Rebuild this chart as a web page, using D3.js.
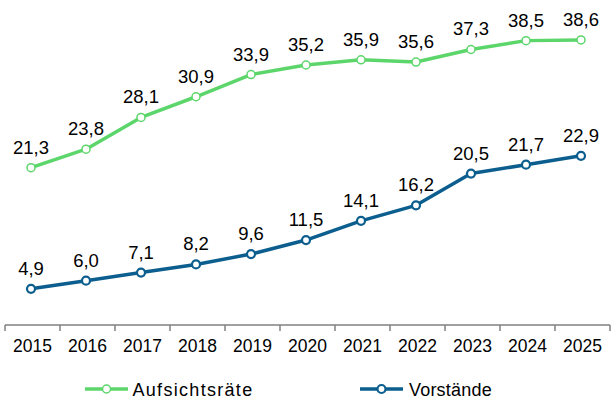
<!DOCTYPE html>
<html>
<head>
<meta charset="utf-8">
<script src="https://cdn.jsdelivr.net/npm/d3@7"></script>
<style>
	body { margin: 0; background: #fff; }
	svg { display: block; font-family: "Liberation Sans", Arial, sans-serif; }
	.xaxis path, .xaxis line { stroke: #808080; stroke-width: 1.5; }
	.xaxis text { fill: #000; font-size: 17.5px; }
	.lbl { font-size: 18.5px; fill: #000; }
	.legend text { font-size: 18px; fill: #000; }
</style>
</head>
<body>
<div id="chart"></div>
<script>
const years = ["2015", "2016", "2017", "2018", "2019", "2020", "2021", "2022", "2023", "2024", "2025"],
	aufsichtsraete = [21.3, 23.8, 28.1, 30.9, 33.9, 35.2, 35.9, 35.6, 37.3, 38.5, 38.6],
	vorstaende = [4.9, 6.0, 7.1, 8.2, 9.6, 11.5, 14.1, 16.2, 20.5, 21.7, 22.9],
	seriesNames = ["Aufsichtsräte", "Vorstände"],
	seriesColors = ["#5cd66b", "#0b5e8e"];

const fmt = v => d3.format(".1f")(v).replace(".", ",");

const width = 612, height = 400;

// band scale for the axis, point scale for the markers
var x = d3.scaleBand()
		.domain(years)
		.range([5, 610]);

var xp = d3.scalePoint()
		.domain(years)
		.range([31, 581]);

var y = d3.scaleLinear()
		.domain([0, 44])
		.range([325, 0]);

var svg = d3.select("#chart").append("svg")
		.attr("width", width)
		.attr("height", height);

var xAxisFunc = d3.axisBottom(x)
		.tickSizeOuter(0)
		.tickSizeInner(0)
		.tickPadding(15);

var X = svg.append("g")
		.attr("class", "xaxis")
		.attr("transform", "translate(0,325)")
		.call(xAxisFunc);

X.select(".domain").attr("d", "M5,0H610");

// tick marks sit between the categories
X.selectAll(".sep")
	.data(years.concat(["end"]))
	.enter()
	.append("line")
	.attr("class", "sep")
	.attr("x1", (d, i) => i < years.length ? x(d) : x.range()[1])
	.attr("x2", (d, i) => i < years.length ? x(d) : x.range()[1])
	.attr("y1", 0)
	.attr("y2", 6);

X.selectAll(".tick text").attr("dy", "0.71em");

var line = d3.line()
		.x((d, i) => xp(years[i]))
		.y(d => y(d));

function drawSeries(values, color, strokeMarker) {
	var g = svg.append("g");

	g.append("path")
		.datum(values)
		.attr("d", line)
		.attr("fill", "none")
		.attr("stroke", color)
		.attr("stroke-width", 3.5)
		.attr("stroke-linejoin", "round");

	g.selectAll("circle")
		.data(values)
		.enter()
		.append("circle")
		.attr("cx", (d, i) => xp(years[i]))
		.attr("cy", d => y(d))
		.attr("r", 4)
		.attr("fill", "#fff")
		.attr("stroke", color)
		.attr("stroke-width", strokeMarker);

	g.selectAll("text")
		.data(values)
		.enter()
		.append("text")
		.attr("class", "lbl")
		.attr("x", (d, i) => xp(years[i]))
		.attr("y", d => y(d) - 14)
		.attr("text-anchor", "middle")
		.text(d => fmt(d));
}

drawSeries(aufsichtsraete, seriesColors[0], 1.5);
drawSeries(vorstaende, seriesColors[1], 2.2);

// legend
var legendX = [85, 360];

var legend = svg.append("g")
		.attr("class", "legend")
		.selectAll("g")
		.data(seriesNames)
		.enter()
		.append("g")
		.attr("transform", (d, i) => "translate(" + legendX[i] + ",389)");

legend.append("line")
	.attr("x1", 0)
	.attr("x2", 43)
	.attr("stroke", (d, i) => seriesColors[i])
	.attr("stroke-width", 3.5);

legend.append("circle")
	.attr("cx", 21.5)
	.attr("r", 4)
	.attr("fill", "#fff")
	.attr("stroke", (d, i) => seriesColors[i])
	.attr("stroke-width", (d, i) => i ? 2.2 : 1.5);

legend.append("text")
	.attr("x", (d, i) => i ? 49 : 47.5)
	.attr("y", 7)
	.style("letter-spacing", (d, i) => i ? "0.2px" : "1.3px")
	.text(d => d);
</script>
</body>
</html>
